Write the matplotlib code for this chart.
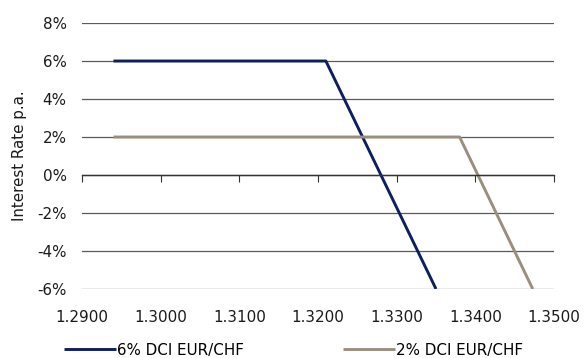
import matplotlib
matplotlib.use("Agg")
import matplotlib.pyplot as plt
from matplotlib.ticker import FuncFormatter

plt.rcParams["font.family"] = ["DejaVu Sans"]

# Rate profiles of the two dual currency investments vs. EUR/CHF spot at expiry
spot_6 = [1.2940, 1.3210, 1.3350]
rate_6 = [6, 6, -6]
spot_2 = [1.2940, 1.3380, 1.3473]
rate_2 = [2, 2, -6]

x_ticks = [1.29, 1.30, 1.31, 1.32, 1.33, 1.34, 1.35]
y_ticks = [-6, -4, -2, 0, 2, 4, 6, 8]

navy = "#0d1f5c"
taupe = "#9a8f7f"
grid_c = "#5a5a5a"
fs = 10.9

fig = plt.figure(figsize=(5.87, 3.58), dpi=100)
ax = fig.add_axes([82 / 587, 1 - 289 / 358, (554 - 82) / 587, (289 - 23) / 358])

ax.plot(spot_6, rate_6, color=navy, lw=2.1, label="6% DCI EUR/CHF", solid_capstyle="butt")
ax.plot(spot_2, rate_2, color=taupe, lw=2.1, label="2% DCI EUR/CHF", solid_capstyle="butt")

ax.set_xlim(x_ticks[0], x_ticks[-1])
ax.set_ylim(y_ticks[0], y_ticks[-1])
ax.set_yticks(y_ticks)
ax.yaxis.set_major_formatter(FuncFormatter(lambda v, p: f"{v:.0f}%"))
ax.grid(axis="y", color=grid_c, lw=0.9)
ax.set_axisbelow(True)

for s in ["top", "right", "left"]:
    ax.spines[s].set_visible(False)
ax.spines["bottom"].set_position(("data", 0))
ax.spines["bottom"].set_color("#333333")
ax.spines["bottom"].set_linewidth(1.0)

ax.set_xticks(x_ticks)
ax.tick_params(axis="x", direction="out", length=5, color="#333333", labelbottom=False)
ax.tick_params(axis="y", length=0, pad=11, labelsize=fs, labelcolor="#1a1a1a")

# Tick labels sit at the bottom of the plot area
sec = ax.secondary_xaxis("bottom")
sec.set_xticks(x_ticks)
sec.xaxis.set_major_formatter(FuncFormatter(lambda v, p: f"{v:.4f}"))
sec.tick_params(length=0, pad=15, labelsize=fs, labelcolor="#1a1a1a")
sec.spines["bottom"].set_visible(False)

ax.set_ylabel("Interest Rate p.a.", fontsize=fs, color="#1a1a1a")
ax.yaxis.set_label_coords(-0.117, 0.5)

leg = fig.legend(loc="center", bbox_to_anchor=(0.5, 1 - 350 / 358), ncol=2,
                 frameon=False, fontsize=fs, handlelength=3.45, handletextpad=0.08,
                 columnspacing=6.5)

fig.savefig("out.png", dpi=100)
